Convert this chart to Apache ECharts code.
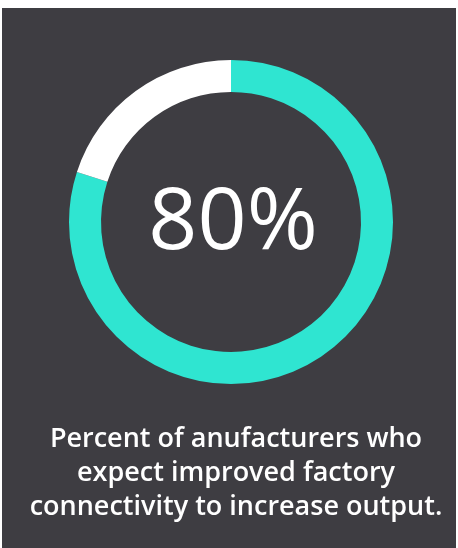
<!DOCTYPE html>
<html>
<head>
<meta charset="utf-8">
<script src="https://cdn.jsdelivr.net/npm/echarts@6/dist/echarts.min.js"></script>
<style>
  html, body { margin: 0; padding: 0; background: #ffffff; }
  #chart { width: 458px; height: 548px; }
</style>
</head>
<body>
<div id="chart"></div>
<script>
// share of manufacturers
var categories = ["Expect increased output", "Other"];
var values = [80, 20];
var headline = "80%";
var caption = "Percent of anufacturers who\nexpect improved factory\nconnectivity to increase output.";

var myChart = echarts.init(document.getElementById("chart"));
myChart.setOption({
  animation: false,
  graphic: [
    {
      type: "rect",
      z: -10,
      shape: { x: 2, y: 8, width: 454, height: 540 },
      style: { fill: "#3e3d42" }
    }
  ],
  title: [
    {
      text: headline,
      left: 228,
      top: 176,
      textAlign: "center",
      textStyle: {
        color: "#ffffff",
        fontFamily: "Open Sans",
        fontWeight: "normal",
        fontSize: 86
      }
    },
    {
      text: caption,
      left: 231,
      top: 417,
      textAlign: "center",
      textStyle: {
        color: "#ffffff",
        fontFamily: "Open Sans",
        fontWeight: 600,
        fontSize: 27,
        lineHeight: 34
      }
    }
  ],
  series: [
    {
      type: "pie",
      radius: [130, 162],
      center: [231, 222],
      startAngle: 90,
      clockwise: true,
      silent: true,
      label: { show: false },
      labelLine: { show: false },
      itemStyle: { borderWidth: 0 },
      data: categories.map(function (name, i) {
        return {
          name: name,
          value: values[i],
          itemStyle: { color: i === 0 ? "#2fe5d1" : "#ffffff" }
        };
      })
    }
  ]
});
</script>
</body>
</html>
